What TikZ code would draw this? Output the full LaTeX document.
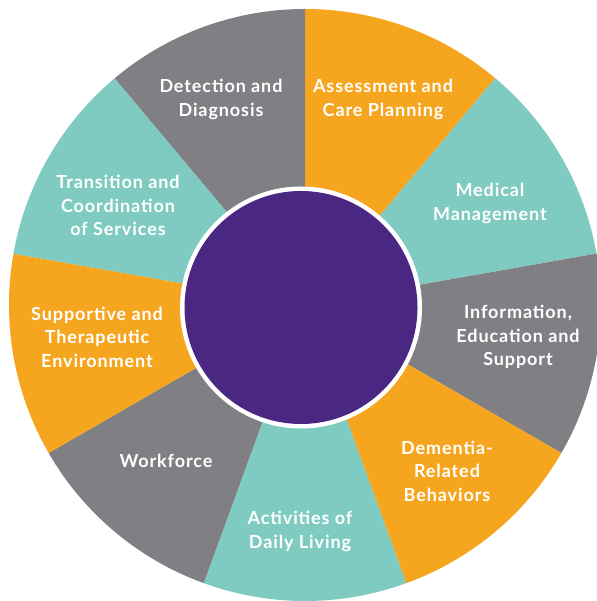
\documentclass[tikz,border=0pt]{standalone}
\usepackage{fontspec}
\setmainfont{Lato}[LetterSpace=5]
\definecolor{wheelorange}{HTML}{F6A51E}
\definecolor{wheelteal}{HTML}{7FCBC1}
\definecolor{wheelgray}{HTML}{808084}
\definecolor{wheelpurple}{HTML}{4A2783}
\tikzset{sectortext/.style={text=white,align=center,font=\bfseries\fontsize{18}{23.5}\selectfont}}
\begin{document}
\begin{tikzpicture}[x=1pt,y=1pt]
\useasboundingbox(0,0)rectangle(596,601);
\coordinate (hub) at (305,296);
%sectors
\foreach \a/\col in {90/wheelorange,50/wheelteal,10/wheelgray,-30/wheelorange,-70/wheelteal,-110/wheelgray,-150/wheelorange,-190/wheelteal,-230/wheelgray}
{
\fill[\col](hub)--++(\a:296)arc[start angle=\a,end angle=\a-40,radius=296]--cycle;
}
%centre disc
\fill[white](301,293.5)circle(121);
\fill[wheelpurple](301,293.5)circle(116.5);
%labels
\node[sectortext] (detect) at (221,501.5){Detection and\\Diagnosis};
\node[sectortext] (assess) at (383,501.5){Assessment and\\Care Planning};
\node[sectortext] (medical) at (490,397.5){Medical\\Management};
\node[sectortext] (inform) at (518,264){Information,\\Education and\\Support};
\node[sectortext] (dementia) at (447,130){Dementia-\\Related\\Behaviors};
\node[sectortext] (daily) at (300,69.5){Activities of\\Daily Living};
\node[sectortext] (workforce) at (166,140){Workforce};
\node[sectortext] (supportive) at (97,264){Supportive and\\Therapeutic\\Environment};
\node[sectortext] (transition) at (118,395.5){Transition and\\Coordination\\of Services};
\end{tikzpicture}
\end{document}
